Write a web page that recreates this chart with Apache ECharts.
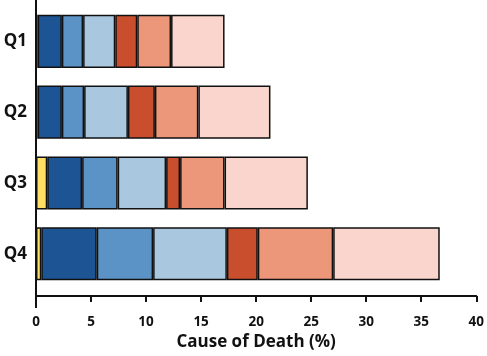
<!DOCTYPE html>
<html>
<head>
<meta charset="utf-8">
<script src="https://cdn.jsdelivr.net/npm/echarts@6/dist/echarts.min.js"></script>
<style>html,body{margin:0;padding:0;background:#fff}#c{width:487px;height:356px}</style>
</head>
<body>
<div id="c"></div>
<script>
var categories = ['Q1', 'Q2', 'Q3', 'Q4'];
var xTicks = [0, 5, 10, 15, 20, 25, 30, 35, 40];
var seriesYellow    = [0.15, 0.15, 1.02, 0.48];
var seriesDarkBlue  = [2.2, 2.2, 3.17, 5.04];
var seriesMidBlue   = [1.93, 2.02, 3.23, 5.12];
var seriesLightBlue = [2.92, 3.98, 4.4, 6.7];
var seriesDarkRed   = [2.0, 2.45, 1.27, 2.81];
var seriesSalmon    = [3.07, 3.95, 4.04, 6.85];
var seriesPink      = [4.86, 6.55, 7.57, 9.68];

var colors = ['#FFDF64', '#1D5494', '#5B93C6', '#A9C8DF', '#C84E2D', '#EC967A', '#F9D5CD'];
var allSeries = [seriesYellow, seriesDarkBlue, seriesMidBlue, seriesLightBlue, seriesDarkRed, seriesSalmon, seriesPink];

var chart = echarts.init(document.getElementById('c'));
var fontFam = '"Open Sans", "DejaVu Sans", sans-serif';
chart.setOption({
  animation: false,
  grid: { left: 36, right: 9.3, top: 6, bottom: 61 },
  xAxis: {
    type: 'value', min: 0, max: 40, interval: 5,
    offset: 7,
    name: 'Cause of Death (%)', nameLocation: 'middle', nameGap: 34,
    nameTextStyle: { fontFamily: fontFam, fontWeight: 'bold', fontSize: 17, color: '#111' },
    axisLine: { show: true, lineStyle: { color: '#111', width: 2 } },
    axisTick: { show: true, length: 6, lineStyle: { color: '#111', width: 2 } },
    axisLabel: { fontFamily: fontFam, fontWeight: 'bold', fontSize: 13.5, color: '#111', margin: 19,
      formatter: function (v) { return xTicks.indexOf(v) >= 0 ? String(v) : ''; } },
    splitLine: { show: false }
  },
  yAxis: {
    type: 'category', data: categories, inverse: true,
    axisLine: { show: false },
    axisTick: { show: false },
    axisLabel: { fontFamily: fontFam, fontWeight: 'bold', fontSize: 17, color: '#111', margin: 9 }
  },
  series: allSeries.map(function (d, i) {
    return {
      type: 'bar', stack: 'total', data: d,
      barCategoryGap: '25%',
      itemStyle: { color: colors[i], borderColor: '#111', borderWidth: 1.5 }
    };
  })
});
// vertical axis line spanning full height down to the x-axis tick end
var x0 = chart.convertToPixel({ xAxisIndex: 0 }, 0);
chart.setOption({
  graphic: [{
    type: 'line', z: 100,
    shape: { x1: x0, y1: 0, x2: x0, y2: 308 },
    style: { stroke: '#111', lineWidth: 2 }
  }]
});
</script>
</body>
</html>
